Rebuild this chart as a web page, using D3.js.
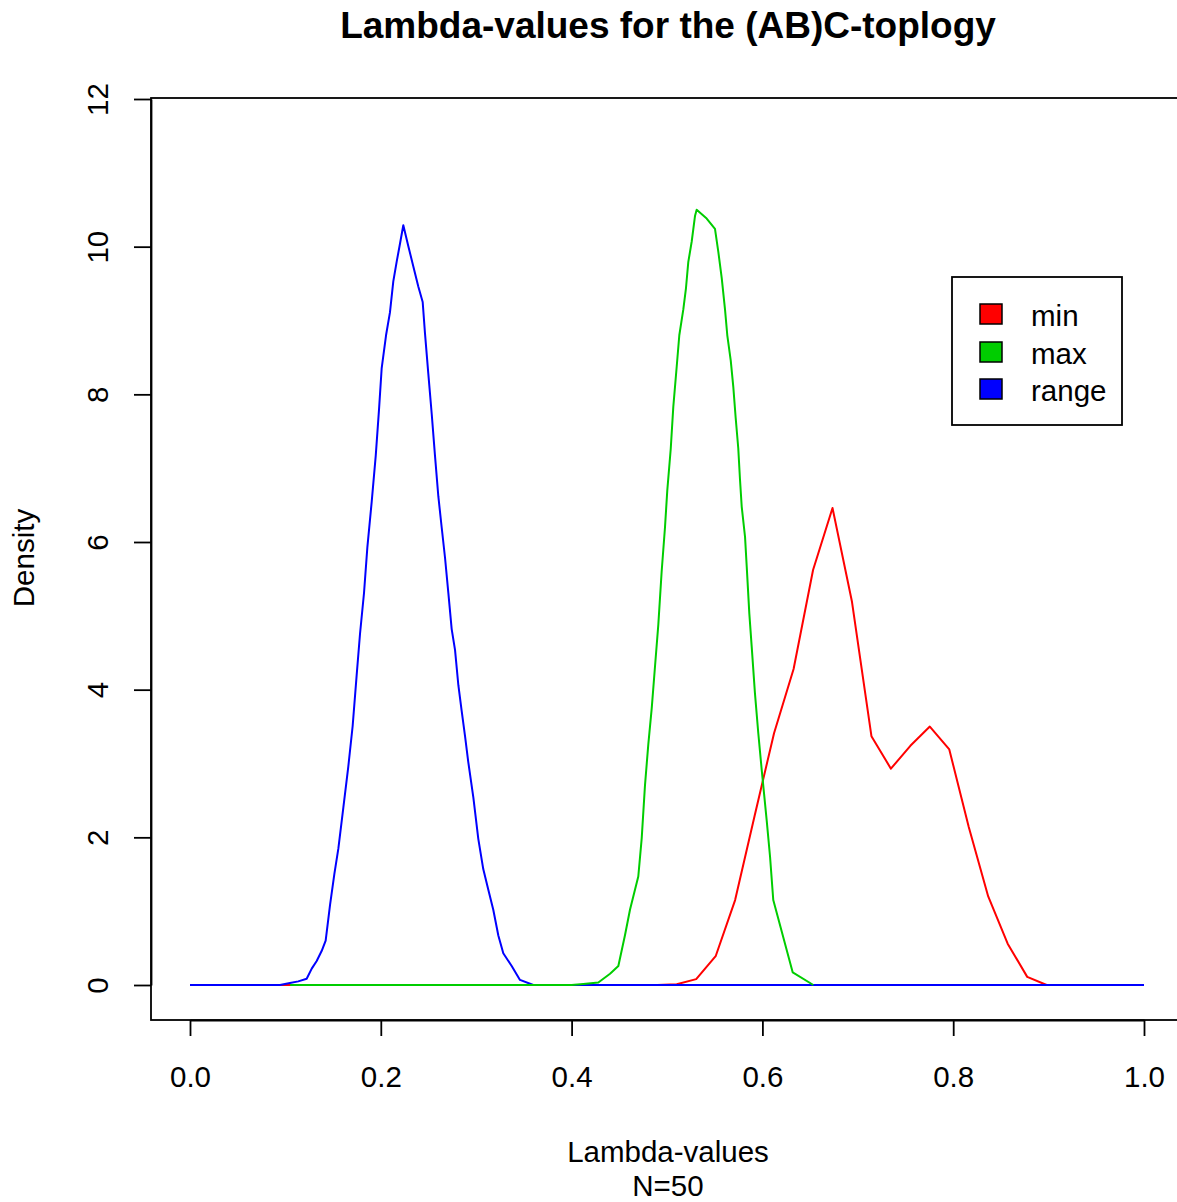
<!DOCTYPE html>
<html>
<head>
<meta charset="utf-8">
<script src="https://cdn.jsdelivr.net/npm/d3@7"></script>
<style>
  html, body { margin: 0; padding: 0; background: #fff; }
  svg text { font-family: "Liberation Sans", Arial, Helvetica, sans-serif; fill: #000; }
</style>
</head>
<body>
<script>
// ---- data ----
const title = "Lambda-values for the (AB)C-toplogy";
const xLabel = "Lambda-values";
const subLabel = "N=50";
const yLabel = "Density";
const xTicks = [0.0, 0.2, 0.4, 0.6, 0.8, 1.0];
const yTicks = [0, 2, 4, 6, 8, 10, 12];
const seriesNames = ["min", "max", "range"];
const seriesColors = ["#FF0000", "#00CD00", "#0000FF"];

const minX = [0, 0.4898, 0.5102, 0.5306, 0.5510, 0.5714, 0.5918, 0.6122, 0.6327, 0.6531, 0.6735, 0.6939, 0.7143, 0.7347, 0.7551, 0.7755, 0.7959, 0.8163, 0.8367, 0.8571, 0.8776, 0.8980, 1.0];
const minY = [0, 0, 0.01, 0.08, 0.39, 1.15, 2.29, 3.41, 4.28, 5.62, 6.46, 5.19, 3.37, 2.93, 3.24, 3.50, 3.19, 2.14, 1.20, 0.56, 0.11, 0, 0];

const maxX = [0.105, 0.40, 0.4123, 0.4280, 0.4403, 0.4490, 0.4560, 0.4612, 0.4699, 0.4735, 0.4769, 0.4804, 0.4840, 0.4874, 0.4909, 0.4944, 0.4979, 0.5003, 0.5039, 0.5066, 0.5102, 0.5129, 0.5171, 0.5199, 0.5223, 0.5259, 0.5294, 0.5311, 0.5416, 0.5503, 0.5538, 0.5574, 0.5608, 0.5632, 0.5668, 0.5695, 0.5720, 0.5747, 0.5765, 0.5783, 0.5818, 0.5836, 0.5863, 0.5888, 0.5922, 0.5957, 0.5993, 0.6045, 0.6080, 0.6114, 0.6318, 0.6534];
const maxY = [0, 0, 0.014, 0.033, 0.152, 0.257, 0.677, 1.02, 1.47, 1.99, 2.70, 3.26, 3.75, 4.31, 4.88, 5.6, 6.2, 6.7, 7.26, 7.83, 8.38, 8.80, 9.15, 9.44, 9.79, 10.07, 10.42, 10.50, 10.38, 10.24, 9.93, 9.57, 9.15, 8.80, 8.46, 8.10, 7.68, 7.27, 6.85, 6.48, 6.07, 5.66, 5.03, 4.58, 3.95, 3.41, 2.91, 2.23, 1.74, 1.15, 0.17, 0];

const rangeX = [0, 0.0943, 0.1048, 0.1135, 0.1223, 0.1276, 0.1328, 0.1381, 0.1422, 0.1468, 0.1513, 0.1555, 0.1607, 0.1659, 0.1705, 0.1747, 0.1782, 0.1824, 0.1859, 0.1905, 0.1947, 0.1981, 0.2009, 0.2055, 0.2096, 0.2131, 0.2167, 0.2201, 0.2236, 0.2288, 0.2341, 0.2393, 0.2439, 0.2463, 0.2498, 0.2534, 0.2568, 0.2603, 0.2638, 0.2673, 0.2708, 0.2743, 0.2778, 0.2813, 0.2848, 0.2883, 0.2917, 0.2970, 0.3022, 0.3074, 0.3127, 0.3179, 0.3232, 0.3284, 0.3372, 0.3459, 0.3599, 1.0];
const rangeY = [0, 0, 0.027, 0.049, 0.084, 0.222, 0.325, 0.463, 0.601, 1.086, 1.503, 1.847, 2.40, 2.954, 3.508, 4.198, 4.754, 5.309, 5.928, 6.55, 7.17, 7.79, 8.35, 8.80, 9.11, 9.53, 9.80, 10.04, 10.29, 10.01, 9.73, 9.46, 9.25, 8.83, 8.28, 7.73, 7.17, 6.62, 6.20, 5.79, 5.31, 4.82, 4.54, 4.06, 3.71, 3.37, 3.02, 2.54, 1.98, 1.57, 1.29, 1.02, 0.67, 0.43, 0.257, 0.069, 0, 0];

// ---- layout ----
const W = 1177, H = 1202;
const box = { left: 151, top: 98, right: 1182, bottom: 1020 };
const FONT = 29.5;

const svg = d3.select("body").append("svg")
  .attr("width", W).attr("height", H)
  .attr("viewBox", `0 0 ${W} ${H}`);

const x = d3.scaleLinear().domain([0, 1]).range([190, 1144]);
const y = d3.scaleLinear().domain([0, 12]).range([985, 99]);

// plot box
svg.append("rect")
  .attr("x", box.left).attr("y", box.top)
  .attr("width", box.right - box.left).attr("height", box.bottom - box.top)
  .attr("fill", "none").attr("stroke", "#000").attr("stroke-width", 1.8);

// x axis
const xAxis = svg.append("g")
  .attr("transform", `translate(0,${box.bottom})`)
  .call(d3.axisBottom(x).tickValues(xTicks).tickFormat(d3.format(".1f")).tickSize(16).tickSizeOuter(0));
xAxis.attr("font-family", null);
xAxis.select(".domain").attr("stroke", "#000").attr("stroke-width", 1.8);
xAxis.selectAll(".tick line").attr("stroke", "#000").attr("stroke-width", 1.8);
xAxis.selectAll(".tick text")
  .attr("y", 67).attr("dy", null)
  .attr("font-size", FONT).attr("fill", "#000");

// y axis
const yAxis = svg.append("g")
  .attr("transform", `translate(${box.left},0)`)
  .call(d3.axisLeft(y).tickValues(yTicks).tickFormat(d3.format("d")).tickSize(17).tickSizeOuter(0));
yAxis.attr("font-family", null);
yAxis.select(".domain").attr("stroke", "#000").attr("stroke-width", 1.8);
yAxis.selectAll(".tick line").attr("stroke", "#000").attr("stroke-width", 1.8);
yAxis.selectAll(".tick text")
  .attr("x", null).attr("dy", null)
  .attr("text-anchor", "middle")
  .attr("transform", "translate(-43,0) rotate(-90)")
  .attr("font-size", FONT).attr("fill", "#000");

// curves (draw order: min, range, max)
const line = d3.line().x(d => x(d[0])).y(d => y(d[1]));
const series = [
  { name: "min", xs: minX, ys: minY, color: seriesColors[0] },
  { name: "range", xs: rangeX, ys: rangeY, color: seriesColors[2] },
  { name: "max", xs: maxX, ys: maxY, color: seriesColors[1] }
];
series.forEach(s => {
  svg.append("path")
    .datum(s.xs.map((v, i) => [v, s.ys[i]]))
    .attr("d", line)
    .attr("fill", "none")
    .attr("stroke", s.color)
    .attr("stroke-width", 2)
    .attr("stroke-linejoin", "round");
});

// title
svg.append("text")
  .attr("x", 668).attr("y", 38)
  .attr("text-anchor", "middle")
  .attr("font-size", 37).attr("font-weight", "bold")
  .text(title);

// axis labels
svg.append("text")
  .attr("x", 668).attr("y", 1162)
  .attr("text-anchor", "middle").attr("font-size", FONT)
  .text(xLabel);
svg.append("text")
  .attr("x", 668).attr("y", 1196)
  .attr("text-anchor", "middle").attr("font-size", FONT)
  .text(subLabel);
svg.append("text")
  .attr("transform", "translate(34,558) rotate(-90)")
  .attr("text-anchor", "middle").attr("font-size", FONT)
  .text(yLabel);

// legend
const legend = svg.append("g");
legend.append("rect")
  .attr("x", 952).attr("y", 277).attr("width", 170).attr("height", 148)
  .attr("fill", "#fff").attr("stroke", "#000").attr("stroke-width", 1.8);
const baselines = [326, 364, 401];
seriesNames.forEach((n, i) => {
  legend.append("rect")
    .attr("x", 980).attr("y", baselines[i] - 22).attr("width", 22).attr("height", 20)
    .attr("fill", seriesColors[i]).attr("stroke", "#000").attr("stroke-width", 1.5);
  legend.append("text")
    .attr("x", 1031).attr("y", baselines[i])
    .attr("font-size", FONT)
    .text(n);
});
</script>
</body>
</html>
